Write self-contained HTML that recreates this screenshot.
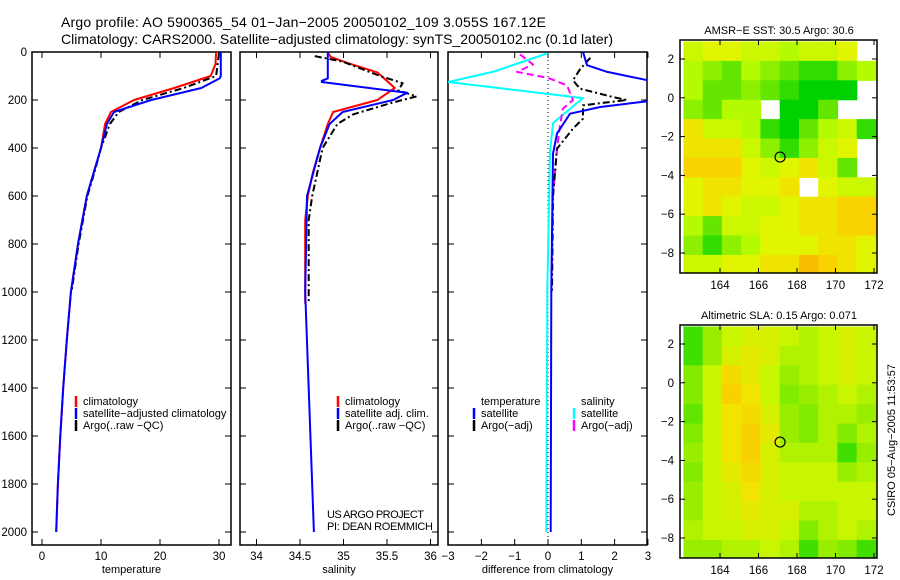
<!DOCTYPE html>
<html><head><meta charset="utf-8">
<style>
html,body{margin:0;padding:0;background:#fff;}
svg{display:block;font-family:"Liberation Sans",sans-serif;}
</style></head>
<body>
<svg id="fig" width="900" height="580" viewBox="0 0 900 580" xmlns="http://www.w3.org/2000/svg">
<text x="61" y="27" font-size="14" textLength="485">Argo profile: AO 5900365_54 01−Jan−2005 20050102_109 3.055S 167.12E</text>
<text x="61" y="44" font-size="14" textLength="552">Climatology: CARS2000. Satellite−adjusted climatology: synTS_20050102.nc (0.1d later)</text>
<g id="g"></g>
<text transform="translate(895,440) rotate(-90)" text-anchor="middle" font-size="11">CSIRO 05−Aug−2005 11:53:57</text>
</svg>
<script>
// ---- profile data ----
const tDepthRed=[0,50,100,150,200,250,300,400,500,600,800,1000,1200,1400,1600,1800,2000];
const tRed=[29.5,29.4,28.6,22.4,15.6,11.7,10.7,10.0,8.8,7.6,6.1,4.9,4.2,3.6,3.1,2.7,2.4];
const tDepthBlue=[0,100,110,150,200,250,300,400,500,600,800,1000,1200,1400,1600,1800,2000];
const tBlue=[30.3,30.3,30.1,27.0,18.5,12.2,11.0,10.0,8.8,7.6,6.1,4.9,4.2,3.6,3.1,2.7,2.4];
const tDepthBlack=[5,100,150,200,250,300,400,500,600,800,1000];
const tBlack=[30.0,29.5,24.0,17.0,13.0,11.5,10.0,8.9,7.7,6.2,5.0];

const sDepthRed=[0,20,45,85,150,200,250,300,400,500,600,700,1050];
const sRed=[34.82,34.85,35.04,35.39,35.59,35.39,34.88,34.82,34.73,34.65,34.59,34.56,34.56];
const sDepthBlue=[0,110,120,125,170,200,250,300,400,600,1000,2000];
const sBlue=[34.82,34.82,34.75,34.75,35.73,35.57,34.99,34.84,34.73,34.58,34.56,34.66];
const sDepthBlack=[17,40,100,130,160,185,210,260,300,400,500,600,700,1050];
const sBlack=[34.67,34.99,35.42,35.68,35.63,35.84,35.57,35.11,34.93,34.76,34.70,34.64,34.60,34.60];

const dDepthTsat=[0,55,83,118,160,205,229,257,340,424,1000,2000];
const dTsat=[1.05,1.17,1.78,3.0,4.5,3.0,1.57,0.66,0.27,0.15,0.1,0.08];
const dDepthTarg=[24,72,118,153,188,200,222,278,319,403,600,1000];
const dTarg=[1.27,0.96,0.75,0.96,1.96,2.37,1.05,1.05,0.75,0.27,0.15,0.12];
const dDepthSsat=[5,83,125,192,296,417,1000,2000];
const dSsat=[0,-1.66,-3.0,1.05,0.15,0.06,-0.02,-0.05];
const dDepthSarg=[10,52,83,108,139,200,236,306,403,600,1000];
const dSarg=[-0.84,-0.45,-0.93,0,0.57,0.75,0.45,0.36,0.27,0.15,0.1];

const depthTicks=[0,200,400,600,800,1000,1200,1400,1600,1800,2000];
const tempTicks=[0,10,20,30];
const salTicks=[34,34.5,35,35.5,36];
const diffTicks=[-3,-2,-1,0,1,2,3];

// ---- map data (1-degree cells, rows from north to south) ----
const mapLons=[162.6,163.6,164.6,165.6,166.6,167.6,168.6,169.6,170.6,171.6];
const mapLats=[2.4,1.4,0.4,-0.6,-1.6,-2.6,-3.6,-4.6,-5.6,-6.6,-7.6,-8.6];
const sstGrid=[
[30.3,30.4,30.4,30.3,30.3,30.2,30.3,30.3,30.4,null],
[30.2,30.1,30.0,30.2,30.1,30.0,29.9,29.9,30.1,30.2],
[30.2,30.0,30.0,30.1,30.0,29.9,29.8,29.8,29.8,null],
[30.1,30.0,30.2,30.2,null,29.8,29.8,30.0,null,null],
[30.5,30.3,30.3,30.2,29.9,29.8,30.0,30.2,30.3,29.9],
[30.5,30.5,30.5,30.3,30.1,29.9,30.1,30.3,30.4,null],
[30.6,30.6,30.6,30.4,30.3,30.4,30.5,30.3,30.0,null],
[30.4,30.5,30.5,30.4,30.4,30.5,null,30.4,30.3,30.3],
[30.4,30.5,30.4,30.3,30.3,30.4,30.5,30.5,30.6,30.6],
[30.2,30.0,30.3,30.3,30.4,30.4,30.5,30.5,30.6,30.6],
[30.1,29.9,30.1,30.2,30.4,30.4,30.4,30.5,30.5,30.4],
[30.3,30.3,30.4,30.4,30.5,30.5,30.7,30.6,30.5,30.4]];
const slaGrid=[
[0.10,0.13,0.15,0.16,0.16,0.15,0.14,0.15,0.16,0.15],
[0.10,0.13,0.16,0.17,0.16,0.14,0.14,0.15,0.16,0.15],
[0.12,0.15,0.19,0.17,0.15,0.13,0.14,0.15,0.16,0.15],
[0.12,0.15,0.20,0.18,0.15,0.12,0.13,0.14,0.15,0.14],
[0.11,0.15,0.18,0.19,0.16,0.13,0.12,0.14,0.14,0.13],
[0.12,0.15,0.18,0.20,0.17,0.13,0.12,0.14,0.12,0.14],
[0.13,0.15,0.18,0.20,0.16,0.14,0.14,0.14,0.10,0.13],
[0.12,0.15,0.17,0.19,0.16,0.15,0.15,0.15,0.13,0.14],
[0.13,0.15,0.16,0.18,0.16,0.15,0.15,0.15,0.15,0.15],
[0.13,0.15,0.16,0.17,0.16,0.16,0.14,0.14,0.15,0.15],
[0.14,0.15,0.15,0.16,0.16,0.15,0.12,0.14,0.15,0.14],
[0.13,0.13,0.14,0.14,0.15,0.14,0.10,0.13,0.12,0.10]];
const argoLon=167.12, argoLat=-3.055;
const latTicks=[2,0,-2,-4,-6,-8];
const lonTicks=[164,166,168,170,172];

const NS="http://www.w3.org/2000/svg";
const G=document.getElementById('g');
function mk(tag,attrs,parent){const e=document.createElementNS(NS,tag);for(const k in attrs)e.setAttribute(k,attrs[k]);(parent||G).appendChild(e);return e;}
function txt(x,y,s,size,anchor,parent){const e=mk('text',{x:x,y:y,'font-size':size,'text-anchor':anchor||'start'},parent);e.textContent=s;return e;}

const Y=d=>52+d*0.24;
const PT={x0:32,x1:231,f:v=>42+v*5.9};
const PS={x0:240,x1:438,f:v=>256.5+(v-34)*87};
const PD={x0:448,x1:647,f:v=>548+v*33.3};

function panel(P,name,ticks,labelFmt,xlabel,leftLabels){
  const g=mk('g',{});
  
  
  const cid='clip-'+name;
  const cp=mk('clipPath',{id:cid},g);mk('rect',{x:P.x0,y:52,width:P.x1-P.x0,height:493},cp);
  ticks.forEach(t=>{const x=P.f(t);
    mk('line',{x1:x,x2:x,y1:52,y2:58,stroke:'#000'},g);
    mk('line',{x1:x,x2:x,y1:545,y2:539,stroke:'#000'},g);
    const l=txt(x,560,labelFmt(t),11.5,'middle',g);
    
    });
  depthTicks.forEach(d=>{const y=Y(d);
    mk('line',{x1:P.x0,x2:P.x0+6,y1:y,y2:y,stroke:'#000'},g);
    mk('line',{x1:P.x1,x2:P.x1-6,y1:y,y2:y,stroke:'#000'},g);
    if(leftLabels){const l=txt(27,y+4,String(d),11.5,'end',g);
      
      }});
  mk('rect',{x:P.x0,y:52,width:P.x1-P.x0,height:493,fill:'none',stroke:'#000','stroke-width':1.5},g);
  const xl=txt((P.x0+P.x1)/2,573,xlabel,11,'middle',g);
  
  
  const inner=mk('g',{'clip-path':'url(#'+cid+')'},g);
  return inner;
}
function series(parent,P,depths,vals,color,dash,name,w){
  const pts=depths.map((d,i)=>P.f(vals[i]).toFixed(1)+','+Y(d).toFixed(1)).join(' ');
  const e=mk('polyline',{points:pts,fill:'none',stroke:color,'stroke-width':w||2,'stroke-dasharray':dash||'none','stroke-linejoin':'round'},parent);
  
  
}
function legend(parent,x,y,items){
  items.forEach((it,i)=>{const yy=y+i*12;
    if(it.c){mk('line',{x1:x,x2:x,y1:yy-9,y2:yy+2,stroke:it.c,'stroke-width':2.5},parent);}
    const t=txt(x+7,yy,it.t,11,'start',parent);
    
    });
}
const dashBlack='7,3,2,3', dashMag='7,4';
// Temperature panel
let p=panel(PT,'temperature-panel',tempTicks,String,'temperature',true);
series(p,PT,tDepthRed,tRed,'#f00',null,'temp-climatology-line');
series(p,PT,tDepthBlack,tBlack,'#000',dashBlack,'temp-argo-line');
series(p,PT,tDepthBlue,tBlue,'#00f',null,'temp-satellite-line');
legend(G,76,405,[{c:'#f00',t:'climatology'},{c:'#00f',t:'satellite−adjusted climatology'},{c:'#000',t:'Argo(..raw −QC)'}]);
// Salinity panel
p=panel(PS,'salinity-panel',salTicks,String,'salinity',false);
series(p,PS,sDepthRed,sRed,'#f00',null,'sal-climatology-line');
series(p,PS,sDepthBlack,sBlack,'#000',dashBlack,'sal-argo-line');
series(p,PS,sDepthBlue,sBlue,'#00f',null,'sal-satellite-line');
legend(G,338,405,[{c:'#f00',t:'climatology'},{c:'#00f',t:'satellite adj. clim.'},{c:'#000',t:'Argo(..raw −QC)'}]);
let a=txt(327,518,'US ARGO PROJECT',11,'start');a.setAttribute('textLength','97');
a=txt(327,530,'PI: DEAN ROEMMICH',11,'start');a.setAttribute('textLength','106');
// Difference panel
p=panel(PD,'difference-panel',diffTicks,v=>v<0?'−'+(-v):String(v),'difference from climatology',false);
mk('line',{x1:PD.f(0),x2:PD.f(0),y1:52,y2:545,stroke:'#000','stroke-dasharray':'1,3'},p);
series(p,PD,dDepthSsat,dSsat,'#0ff',null,'diff-sal-satellite-line');
series(p,PD,dDepthSarg,dSarg,'#f0f',dashMag,'diff-sal-argo-line');
series(p,PD,dDepthTarg,dTarg,'#000',dashBlack,'diff-temp-argo-line');
series(p,PD,dDepthTsat,dTsat,'#00f',null,'diff-temp-satellite-line');
legend(G,474,405,[{c:null,t:'temperature'},{c:'#00f',t:'satellite'},{c:'#000',t:'Argo(−adj)'}]);
legend(G,574,405,[{c:null,t:'salinity'},{c:'#0ff',t:'satellite'},{c:'#f0f',t:'Argo(−adj)'}]);

// ---- maps ----
function lerpColor(stops,v){
  if(v<=stops[0][0])return stops[0][1];
  for(let i=1;i<stops.length;i++){if(v<=stops[i][0]){const [a0,c0]=stops[i-1],[a1,c1]=stops[i];const t=(v-a0)/(a1-a0);
    return 'rgb('+c0.map((c,k)=>Math.round(c+(c1[k]-c)*t)).join(',')+')';}}
  const c=stops[stops.length-1][1];return 'rgb('+c.join(',')+')';
}
const sstStops=[[29.6,[0,180,140]],[29.8,[0,210,0]],[30.0,[100,230,0]],[30.2,[180,250,0]],[30.4,[225,245,0]],[30.6,[250,210,0]],[30.8,[250,170,0]]];
const slaStops=[[0.08,[0,210,0]],[0.12,[130,235,0]],[0.15,[200,245,0]],[0.18,[240,228,0]],[0.21,[250,200,0]]];
function map(top,grid,stops,title,name){
  const g=mk('g',{});
  
  
  const lx=l=>720+(l-164)*19.25, ly=l=>top+19+(2-l)*19.4;
  const x0=680,x1=877,y0=top,y1=top+233;
  const cid='clip-'+name;const cp=mk('clipPath',{id:cid},g);mk('rect',{x:x0,y:y0,width:x1-x0,height:y1-y0},cp);
  const cg=mk('g',{'clip-path':'url(#'+cid+')'},g);
  grid.forEach((row,r)=>row.forEach((v,c)=>{ if(v===null)return;
    const cx=lx(mapLons[c]-0.5), cy=ly(mapLats[r]+0.5);
    const cell=mk('rect',{x:cx.toFixed(1),y:cy.toFixed(1),width:(19.25+0.6).toFixed(1),height:(19.4+0.6).toFixed(1),fill:lerpColor(stops,v)},cg);
    
    }));
  const ring=mk('circle',{cx:lx(argoLon),cy:ly(argoLat),r:5,fill:'none',stroke:'#000','stroke-width':1.2},g);
  
  
  mk('rect',{x:x0,y:y0,width:x1-x0,height:y1-y0,fill:'none',stroke:'#000','stroke-width':1.5},g);
  latTicks.forEach(l=>{const y=ly(l);mk('line',{x1:x0,x2:x0+5,y1:y,y2:y,stroke:'#000'},g);mk('line',{x1:x1,x2:x1-5,y1:y,y2:y,stroke:'#000'},g);
    const t=txt(674,y+4,l<0?'−'+(-l):String(l),11.5,'end',g);});
  lonTicks.forEach(l=>{const x=lx(l);mk('line',{x1:x,x2:x,y1:y0,y2:y0+5,stroke:'#000'},g);mk('line',{x1:x,x2:x,y1:y1,y2:y1-5,stroke:'#000'},g);
    const t=txt(x,y1+16,String(l),11.5,'middle',g);});
  const t=txt(779,top-6,title,11,'middle',g);
}
map(40,sstGrid,sstStops,'AMSR−E SST: 30.5 Argo: 30.6','sst-map');
map(325,slaGrid,slaStops,'Altimetric SLA: 0.15 Argo: 0.071','sla-map');
</script>
</body></html>
